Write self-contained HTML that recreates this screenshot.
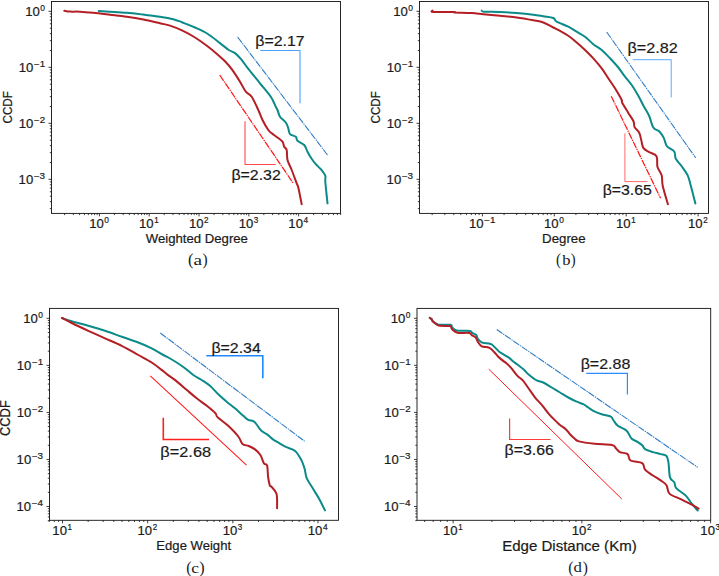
<!DOCTYPE html>
<html><head><meta charset="utf-8"><style>
html,body{margin:0;padding:0;background:#fff;}
svg{display:block;}
text{stroke:#1a1a1a;stroke-width:0.2px;vector-effect:non-scaling-stroke;}
text.cap{stroke:none;}
</style></head><body>
<svg width="719" height="576" viewBox="0 0 719 576">
<rect width="719" height="576" fill="#fff"/>
<path d="M98.70,11.00 C100.58,11.12 105.33,11.40 110.00,11.70 C114.67,12.00 121.15,12.32 126.70,12.80 C132.25,13.28 137.75,13.95 143.30,14.60 C148.85,15.25 155.00,15.93 160.00,16.70 C165.00,17.47 169.55,18.23 173.30,19.20 C177.05,20.17 178.88,21.12 182.50,22.50 C186.12,23.88 190.83,25.62 195.00,27.50 C199.17,29.38 203.33,31.15 207.50,33.75 C211.67,36.35 216.46,40.39 220.00,43.10 C223.54,45.81 226.25,48.33 228.75,50.00 C231.25,51.67 232.92,51.53 235.00,53.10 C237.08,54.67 238.96,56.68 241.25,59.40 C243.54,62.12 245.62,65.42 248.75,69.40 C251.88,73.38 256.32,78.75 260.00,83.30 C263.68,87.85 268.17,92.80 270.80,96.70 C273.43,100.60 274.68,104.48 275.80,106.70 C276.92,108.92 276.80,108.33 277.50,110.00 C278.20,111.67 278.62,114.62 280.00,116.70 C281.38,118.78 284.42,120.57 285.80,122.50 C287.18,124.43 287.60,126.35 288.30,128.30 C289.00,130.25 288.75,132.80 290.00,134.20 C291.25,135.60 294.55,135.60 295.80,136.70 C297.05,137.80 296.10,139.42 297.50,140.80 C298.90,142.18 302.53,143.18 304.20,145.00 C305.87,146.82 306.40,149.62 307.50,151.70 C308.60,153.78 309.42,155.42 310.80,157.50 C312.18,159.58 314.13,162.25 315.80,164.20 C317.47,166.15 319.22,167.27 320.80,169.20 C322.38,171.13 324.55,173.72 325.30,175.80 C326.05,177.88 324.93,177.12 325.30,181.70 C325.67,186.28 327.13,199.70 327.50,203.30" fill="none" stroke="#0b8a8a" stroke-width="2" stroke-linejoin="round" stroke-linecap="round"/>
<path d="M64.30,10.80 C65.25,10.93 67.38,11.45 70.00,11.60 C72.62,11.75 76.12,11.50 80.00,11.70 C83.88,11.90 88.30,12.30 93.30,12.80 C98.30,13.30 104.43,14.05 110.00,14.70 C115.57,15.35 121.15,15.90 126.70,16.70 C132.25,17.50 137.75,18.40 143.30,19.50 C148.85,20.60 155.55,22.28 160.00,23.30 C164.45,24.32 166.25,24.38 170.00,25.60 C173.75,26.82 178.33,28.62 182.50,30.60 C186.67,32.58 190.83,34.89 195.00,37.50 C199.17,40.11 203.75,43.43 207.50,46.25 C211.25,49.07 214.58,51.90 217.50,54.40 C220.42,56.90 222.60,58.75 225.00,61.25 C227.40,63.75 229.40,65.99 231.90,69.40 C234.40,72.81 237.68,77.98 240.00,81.70 C242.32,85.42 243.85,89.20 245.80,91.70 C247.75,94.20 249.62,93.65 251.70,96.70 C253.78,99.75 256.50,106.12 258.30,110.00 C260.10,113.88 260.83,116.67 262.50,120.00 C264.17,123.33 266.77,127.78 268.30,130.00 C269.83,132.22 270.17,132.05 271.70,133.30 C273.23,134.55 275.70,136.10 277.50,137.50 C279.30,138.90 281.38,140.17 282.50,141.70 C283.62,143.23 283.50,145.32 284.20,146.70 C284.90,148.08 286.15,147.78 286.70,150.00 C287.25,152.22 286.67,156.67 287.50,160.00 C288.33,163.33 290.17,166.12 291.70,170.00 C293.23,173.88 295.60,180.38 296.70,183.30 C297.80,186.22 297.47,184.02 298.30,187.50 C299.13,190.98 301.13,201.42 301.70,204.20" fill="none" stroke="#b31f24" stroke-width="2" stroke-linejoin="round" stroke-linecap="round"/>
<path d="M237.60,37.00 L327.50,155.00" fill="none" stroke="#2f7cc8" stroke-width="1.1" stroke-dasharray="7,0.9,1.3,0.9"/>
<path d="M219.70,75.00 L293.30,183.30" fill="none" stroke="#ff1a1a" stroke-width="1.25" stroke-dasharray="7,0.9,1.3,0.9"/>
<path d="M260.20,50.50 L300.00,50.50 L300.00,103.30" fill="none" stroke="#4aa0ff" stroke-width="1.1"/>
<path d="M245.00,121.20 L245.00,164.50 L275.80,164.50" fill="none" stroke="#ff4a4a" stroke-width="1.1"/>
<text transform="translate(255.29,45.60) scale(1.1068,1)" font-family="Liberation Sans" font-size="14.38" fill="#1a1a1a">β=2.17</text>
<text transform="translate(231.39,179.70) scale(1.1068,1)" font-family="Liberation Sans" font-size="14.38" fill="#1a1a1a">β=2.32</text>
<rect x="51.50" y="1.50" width="289.00" height="211.90" fill="none" stroke="#111" stroke-width="0.9"/>
<path d="M64.58,213.40 v1.7 M73.36,213.40 v1.7 M79.58,213.40 v1.7 M84.41,213.40 v1.7 M88.35,213.40 v1.7 M91.68,213.40 v1.7 M94.57,213.40 v1.7 M97.12,213.40 v1.7 M99.40,213.40 v3.0 M114.39,213.40 v1.7 M123.17,213.40 v1.7 M129.39,213.40 v1.7 M134.22,213.40 v1.7 M138.16,213.40 v1.7 M141.49,213.40 v1.7 M144.38,213.40 v1.7 M146.93,213.40 v1.7 M149.21,213.40 v3.0 M164.20,213.40 v1.7 M172.98,213.40 v1.7 M179.20,213.40 v1.7 M184.03,213.40 v1.7 M187.97,213.40 v1.7 M191.30,213.40 v1.7 M194.19,213.40 v1.7 M196.74,213.40 v1.7 M199.02,213.40 v3.0 M214.01,213.40 v1.7 M222.79,213.40 v1.7 M229.01,213.40 v1.7 M233.84,213.40 v1.7 M237.78,213.40 v1.7 M241.11,213.40 v1.7 M244.00,213.40 v1.7 M246.55,213.40 v1.7 M248.83,213.40 v3.0 M263.82,213.40 v1.7 M272.60,213.40 v1.7 M278.82,213.40 v1.7 M283.65,213.40 v1.7 M287.59,213.40 v1.7 M290.92,213.40 v1.7 M293.81,213.40 v1.7 M296.36,213.40 v1.7 M298.64,213.40 v3.0 M313.63,213.40 v1.7 M322.41,213.40 v1.7 M328.63,213.40 v1.7 M333.46,213.40 v1.7 M337.40,213.40 v1.7 M340.73,213.40 v1.7 M51.50,208.64 h-1.7 M51.50,201.64 h-1.7 M51.50,196.22 h-1.7 M51.50,191.78 h-1.7 M51.50,188.03 h-1.7 M51.50,184.79 h-1.7 M51.50,181.92 h-1.7 M51.50,179.36 h-3.0 M51.50,162.50 h-1.7 M51.50,152.64 h-1.7 M51.50,145.64 h-1.7 M51.50,140.22 h-1.7 M51.50,135.78 h-1.7 M51.50,132.03 h-1.7 M51.50,128.79 h-1.7 M51.50,125.92 h-1.7 M51.50,123.36 h-3.0 M51.50,106.50 h-1.7 M51.50,96.64 h-1.7 M51.50,89.64 h-1.7 M51.50,84.22 h-1.7 M51.50,79.78 h-1.7 M51.50,76.03 h-1.7 M51.50,72.79 h-1.7 M51.50,69.92 h-1.7 M51.50,67.36 h-3.0 M51.50,50.50 h-1.7 M51.50,40.64 h-1.7 M51.50,33.64 h-1.7 M51.50,28.22 h-1.7 M51.50,23.78 h-1.7 M51.50,20.03 h-1.7 M51.50,16.79 h-1.7 M51.50,13.92 h-1.7 M51.50,11.36 h-3.0" stroke="#111" stroke-width="0.8" fill="none"/>
<text transform="translate(89.16,228.20) scale(1.0358,1)" font-family="Liberation Sans" font-size="12.69" fill="#1a1a1a">10</text>
<text transform="translate(104.28,223.40) scale(0.9952,1)" font-family="Liberation Sans" font-size="8.46" fill="#1a1a1a">0</text>
<text transform="translate(139.07,228.20) scale(1.0358,1)" font-family="Liberation Sans" font-size="12.69" fill="#1a1a1a">10</text>
<text transform="translate(154.29,223.40) scale(0.9459,1)" font-family="Liberation Sans" font-size="8.46" fill="#1a1a1a">1</text>
<text transform="translate(188.92,228.20) scale(1.0358,1)" font-family="Liberation Sans" font-size="12.69" fill="#1a1a1a">10</text>
<text transform="translate(204.05,223.40) scale(0.9563,1)" font-family="Liberation Sans" font-size="8.46" fill="#1a1a1a">2</text>
<text transform="translate(238.65,228.20) scale(1.0358,1)" font-family="Liberation Sans" font-size="12.69" fill="#1a1a1a">10</text>
<text transform="translate(253.86,223.40) scale(0.9559,1)" font-family="Liberation Sans" font-size="8.46" fill="#1a1a1a">3</text>
<text transform="translate(288.36,228.20) scale(1.0358,1)" font-family="Liberation Sans" font-size="12.69" fill="#1a1a1a">10</text>
<text transform="translate(303.53,223.40) scale(0.9928,1)" font-family="Liberation Sans" font-size="8.46" fill="#1a1a1a">4</text>
<text transform="translate(18.60,183.76) scale(1.0358,1)" font-family="Liberation Sans" font-size="12.69" fill="#1a1a1a">10</text>
<text transform="translate(33.89,178.96) scale(1.1622,1)" font-family="Liberation Sans" font-size="8.46" fill="#1a1a1a">−3</text>
<text transform="translate(18.76,127.76) scale(1.0358,1)" font-family="Liberation Sans" font-size="12.69" fill="#1a1a1a">10</text>
<text transform="translate(34.05,122.96) scale(1.1551,1)" font-family="Liberation Sans" font-size="8.46" fill="#1a1a1a">−2</text>
<text transform="translate(18.68,71.76) scale(1.0358,1)" font-family="Liberation Sans" font-size="12.69" fill="#1a1a1a">10</text>
<text transform="translate(33.97,66.96) scale(1.1587,1)" font-family="Liberation Sans" font-size="8.46" fill="#1a1a1a">−1</text>
<text transform="translate(25.20,15.76) scale(1.0358,1)" font-family="Liberation Sans" font-size="12.69" fill="#1a1a1a">10</text>
<text transform="translate(40.32,10.96) scale(0.9952,1)" font-family="Liberation Sans" font-size="8.46" fill="#1a1a1a">0</text>
<path d="M481.70,10.60 C482.12,10.78 481.15,11.47 484.20,11.70 C487.25,11.93 494.58,11.78 500.00,12.00 C505.42,12.22 511.15,12.55 516.70,13.00 C522.25,13.45 528.87,14.15 533.30,14.70 C537.73,15.25 539.97,15.75 543.30,16.30 C546.63,16.85 551.07,17.10 553.30,18.00 C555.53,18.90 554.20,20.25 556.70,21.70 C559.20,23.15 564.97,25.03 568.30,26.70 C571.63,28.37 573.92,30.03 576.70,31.70 C579.48,33.37 582.23,34.62 585.00,36.70 C587.77,38.78 590.52,41.98 593.30,44.20 C596.08,46.42 598.92,47.65 601.70,50.00 C604.48,52.35 607.23,55.38 610.00,58.30 C612.77,61.22 615.80,64.43 618.30,67.50 C620.80,70.57 622.77,73.78 625.00,76.70 C627.23,79.62 629.48,81.82 631.70,85.00 C633.92,88.18 636.25,92.18 638.30,95.80 C640.35,99.42 642.18,103.33 644.00,106.70 C645.82,110.07 647.65,112.53 649.20,116.00 C650.75,119.47 651.57,124.88 653.30,127.50 C655.03,130.12 657.86,129.97 659.60,131.70 C661.34,133.43 662.53,135.47 663.75,137.90 C664.97,140.33 665.16,143.98 666.90,146.25 C668.64,148.52 672.72,149.42 674.20,151.50 C675.68,153.58 674.58,156.33 675.80,158.75 C677.02,161.17 679.52,163.22 681.50,166.00 C683.48,168.78 686.15,172.10 687.70,175.40 C689.25,178.70 689.52,181.12 690.80,185.80 C692.08,190.48 694.63,200.55 695.40,203.50" fill="none" stroke="#0b8a8a" stroke-width="2" stroke-linejoin="round" stroke-linecap="round"/>
<path d="M432.50,10.60 C432.63,10.83 429.68,11.77 433.30,12.00 C436.92,12.23 450.58,11.92 454.20,12.00 C457.82,12.08 452.08,12.33 455.00,12.50 C457.92,12.67 466.98,12.72 471.70,13.00 C476.42,13.28 478.58,13.73 483.30,14.20 C488.02,14.67 494.43,15.25 500.00,15.80 C505.57,16.35 511.15,16.75 516.70,17.50 C522.25,18.25 528.87,19.47 533.30,20.30 C537.73,21.13 539.97,21.30 543.30,22.50 C546.63,23.70 550.52,26.12 553.30,27.50 C556.08,28.88 557.50,29.42 560.00,30.80 C562.50,32.18 565.52,33.85 568.30,35.80 C571.08,37.75 573.92,40.13 576.70,42.50 C579.48,44.87 582.23,47.37 585.00,50.00 C587.77,52.63 590.52,55.25 593.30,58.30 C596.08,61.35 599.20,64.97 601.70,68.30 C604.20,71.63 606.08,74.97 608.30,78.30 C610.52,81.63 612.77,84.68 615.00,88.30 C617.23,91.92 620.52,97.63 621.70,100.00 C622.88,102.37 621.00,100.35 622.10,102.50 C623.20,104.65 626.40,109.78 628.30,112.90 C630.20,116.03 632.45,118.88 633.50,121.25 C634.55,123.62 633.65,125.19 634.60,127.10 C635.55,129.01 638.09,130.55 639.20,132.70 C640.31,134.85 640.57,137.47 641.25,140.00 C641.93,142.53 641.97,145.88 643.30,147.90 C644.62,149.92 647.00,150.71 649.20,152.10 C651.40,153.49 655.12,153.75 656.50,156.25 C657.88,158.75 656.63,163.91 657.50,167.10 C658.37,170.29 660.83,172.28 661.70,175.40 C662.57,178.52 661.67,181.00 662.70,185.80 C663.73,190.60 667.03,201.13 667.90,204.20" fill="none" stroke="#b31f24" stroke-width="2" stroke-linejoin="round" stroke-linecap="round"/>
<path d="M606.70,32.00 L695.60,157.70" fill="none" stroke="#2f7cc8" stroke-width="1.1" stroke-dasharray="7,0.9,1.3,0.9"/>
<path d="M611.25,96.25 L660.60,198.30" fill="none" stroke="#ff1a1a" stroke-width="1.25" stroke-dasharray="7,0.9,1.3,0.9"/>
<path d="M632.80,59.70 L671.20,59.70 L671.20,97.40" fill="none" stroke="#5aa8ff" stroke-width="1.0"/>
<path d="M624.90,133.30 L624.90,181.60 L647.50,181.60" fill="none" stroke="#ff6a6a" stroke-width="1.0"/>
<text transform="translate(627.57,52.50) scale(1.1231,1)" font-family="Liberation Sans" font-size="14.38" fill="#1a1a1a">β=2.82</text>
<text transform="translate(602.64,195.20) scale(1.1031,1)" font-family="Liberation Sans" font-size="14.38" fill="#1a1a1a">β=3.65</text>
<rect x="419.50" y="1.50" width="289.00" height="211.90" fill="none" stroke="#111" stroke-width="0.9"/>
<path d="M432.14,213.40 v1.7 M444.81,213.40 v1.7 M453.79,213.40 v1.7 M460.76,213.40 v1.7 M466.45,213.40 v1.7 M471.26,213.40 v1.7 M475.43,213.40 v1.7 M479.11,213.40 v1.7 M482.40,213.40 v3.0 M504.04,213.40 v1.7 M516.71,213.40 v1.7 M525.69,213.40 v1.7 M532.66,213.40 v1.7 M538.35,213.40 v1.7 M543.16,213.40 v1.7 M547.33,213.40 v1.7 M551.01,213.40 v1.7 M554.30,213.40 v3.0 M575.94,213.40 v1.7 M588.61,213.40 v1.7 M597.59,213.40 v1.7 M604.56,213.40 v1.7 M610.25,213.40 v1.7 M615.06,213.40 v1.7 M619.23,213.40 v1.7 M622.91,213.40 v1.7 M626.20,213.40 v3.0 M647.84,213.40 v1.7 M660.51,213.40 v1.7 M669.49,213.40 v1.7 M676.46,213.40 v1.7 M682.15,213.40 v1.7 M686.96,213.40 v1.7 M691.13,213.40 v1.7 M694.81,213.40 v1.7 M698.10,213.40 v3.0 M419.50,208.64 h-1.7 M419.50,201.64 h-1.7 M419.50,196.22 h-1.7 M419.50,191.78 h-1.7 M419.50,188.03 h-1.7 M419.50,184.79 h-1.7 M419.50,181.92 h-1.7 M419.50,179.36 h-3.0 M419.50,162.50 h-1.7 M419.50,152.64 h-1.7 M419.50,145.64 h-1.7 M419.50,140.22 h-1.7 M419.50,135.78 h-1.7 M419.50,132.03 h-1.7 M419.50,128.79 h-1.7 M419.50,125.92 h-1.7 M419.50,123.36 h-3.0 M419.50,106.50 h-1.7 M419.50,96.64 h-1.7 M419.50,89.64 h-1.7 M419.50,84.22 h-1.7 M419.50,79.78 h-1.7 M419.50,76.03 h-1.7 M419.50,72.79 h-1.7 M419.50,69.92 h-1.7 M419.50,67.36 h-3.0 M419.50,50.50 h-1.7 M419.50,40.64 h-1.7 M419.50,33.64 h-1.7 M419.50,28.22 h-1.7 M419.50,23.78 h-1.7 M419.50,20.03 h-1.7 M419.50,16.79 h-1.7 M419.50,13.92 h-1.7 M419.50,11.36 h-3.0" stroke="#111" stroke-width="0.8" fill="none"/>
<text transform="translate(468.90,228.20) scale(1.0358,1)" font-family="Liberation Sans" font-size="12.69" fill="#1a1a1a">10</text>
<text transform="translate(484.19,223.40) scale(1.1587,1)" font-family="Liberation Sans" font-size="8.46" fill="#1a1a1a">−1</text>
<text transform="translate(544.06,228.20) scale(1.0358,1)" font-family="Liberation Sans" font-size="12.69" fill="#1a1a1a">10</text>
<text transform="translate(559.18,223.40) scale(0.9952,1)" font-family="Liberation Sans" font-size="8.46" fill="#1a1a1a">0</text>
<text transform="translate(616.06,228.20) scale(1.0358,1)" font-family="Liberation Sans" font-size="12.69" fill="#1a1a1a">10</text>
<text transform="translate(631.27,223.40) scale(0.9459,1)" font-family="Liberation Sans" font-size="8.46" fill="#1a1a1a">1</text>
<text transform="translate(688.00,228.20) scale(1.0358,1)" font-family="Liberation Sans" font-size="12.69" fill="#1a1a1a">10</text>
<text transform="translate(703.13,223.40) scale(0.9563,1)" font-family="Liberation Sans" font-size="8.46" fill="#1a1a1a">2</text>
<text transform="translate(386.60,183.76) scale(1.0358,1)" font-family="Liberation Sans" font-size="12.69" fill="#1a1a1a">10</text>
<text transform="translate(401.89,178.96) scale(1.1622,1)" font-family="Liberation Sans" font-size="8.46" fill="#1a1a1a">−3</text>
<text transform="translate(386.76,127.76) scale(1.0358,1)" font-family="Liberation Sans" font-size="12.69" fill="#1a1a1a">10</text>
<text transform="translate(402.05,122.96) scale(1.1551,1)" font-family="Liberation Sans" font-size="8.46" fill="#1a1a1a">−2</text>
<text transform="translate(386.68,71.76) scale(1.0358,1)" font-family="Liberation Sans" font-size="12.69" fill="#1a1a1a">10</text>
<text transform="translate(401.97,66.96) scale(1.1587,1)" font-family="Liberation Sans" font-size="8.46" fill="#1a1a1a">−1</text>
<text transform="translate(393.20,15.76) scale(1.0358,1)" font-family="Liberation Sans" font-size="12.69" fill="#1a1a1a">10</text>
<text transform="translate(408.32,10.96) scale(0.9952,1)" font-family="Liberation Sans" font-size="8.46" fill="#1a1a1a">0</text>
<path d="M62.00,318.00 C63.62,318.55 67.32,320.00 71.70,321.30 C76.08,322.60 82.75,324.22 88.30,325.80 C93.85,327.38 99.43,328.98 105.00,330.80 C110.57,332.62 116.15,334.75 121.70,336.70 C127.25,338.65 133.30,340.57 138.30,342.50 C143.30,344.43 147.53,346.22 151.70,348.30 C155.87,350.38 160.53,353.47 163.30,355.00 C166.07,356.53 166.07,356.25 168.30,357.50 C170.53,358.75 173.92,360.70 176.70,362.50 C179.48,364.30 182.23,366.22 185.00,368.30 C187.77,370.38 190.52,373.05 193.30,375.00 C196.08,376.95 198.92,378.20 201.70,380.00 C204.48,381.80 207.23,383.43 210.00,385.80 C212.77,388.17 215.52,391.55 218.30,394.20 C221.08,396.85 223.92,399.35 226.70,401.70 C229.48,404.05 232.23,405.95 235.00,408.30 C237.77,410.65 241.08,413.88 243.30,415.80 C245.52,417.72 246.42,418.78 248.30,419.80 C250.18,420.82 252.52,420.17 254.60,421.90 C256.68,423.63 258.72,428.12 260.80,430.20 C262.88,432.28 265.02,432.83 267.10,434.40 C269.18,435.97 271.40,438.22 273.30,439.60 C275.20,440.98 276.42,441.48 278.50,442.70 C280.58,443.92 283.02,445.52 285.80,446.90 C288.58,448.28 292.58,448.75 295.20,451.00 C297.82,453.25 299.93,457.44 301.50,460.40 C303.07,463.36 303.73,465.80 304.60,468.75 C305.47,471.70 305.32,474.81 306.70,478.10 C308.08,481.39 310.82,485.02 312.90,488.50 C314.98,491.98 317.18,495.35 319.20,499.00 C321.22,502.65 324.03,508.50 325.00,510.40" fill="none" stroke="#0b8a8a" stroke-width="2" stroke-linejoin="round" stroke-linecap="round"/>
<path d="M62.00,318.00 C63.62,318.83 67.32,320.87 71.70,323.00 C76.08,325.13 82.75,328.25 88.30,330.80 C93.85,333.35 99.43,335.80 105.00,338.30 C110.57,340.80 116.15,343.02 121.70,345.80 C127.25,348.58 133.30,352.22 138.30,355.00 C143.30,357.78 147.88,360.07 151.70,362.50 C155.52,364.93 158.62,367.58 161.25,369.60 C163.88,371.62 165.07,372.77 167.50,374.60 C169.93,376.43 172.68,378.12 175.80,380.60 C178.93,383.08 182.77,386.55 186.25,389.50 C189.73,392.45 193.22,395.55 196.70,398.30 C200.17,401.05 203.98,403.52 207.10,406.00 C210.22,408.48 213.67,411.35 215.40,413.20 C217.13,415.05 215.42,415.03 217.50,417.10 C219.58,419.17 224.43,422.37 227.90,425.60 C231.37,428.83 235.87,433.43 238.30,436.50 C240.73,439.57 240.76,442.42 242.50,444.00 C244.24,445.58 246.67,445.10 248.75,446.00 C250.83,446.90 253.06,447.90 255.00,449.40 C256.94,450.90 258.90,452.65 260.40,455.00 C261.90,457.35 262.88,461.73 264.00,463.50 C265.12,465.27 266.42,463.35 267.10,465.60 C267.78,467.85 267.65,473.70 268.10,477.00 C268.55,480.30 269.28,483.82 269.80,485.40 C270.32,486.98 270.13,485.11 271.25,486.50 C272.37,487.89 275.52,490.12 276.50,493.75 C277.48,497.38 277.00,505.88 277.10,508.30" fill="none" stroke="#b31f24" stroke-width="2" stroke-linejoin="round" stroke-linecap="round"/>
<path d="M160.30,333.00 L304.60,441.25" fill="none" stroke="#2f7cc8" stroke-width="1.1" stroke-dasharray="7,0.9,1.3,0.9"/>
<path d="M150.30,375.80 L246.50,465.20" fill="none" stroke="#ff1a1a" stroke-width="1.05" stroke-dasharray="none"/>
<path d="M206.30,355.80 L262.80,355.80 L262.80,378.30" fill="none" stroke="#1e88ff" stroke-width="1.6"/>
<path d="M163.30,417.70 L163.30,439.50 L209.00,439.50" fill="none" stroke="#ff1f1f" stroke-width="1.6"/>
<text transform="translate(211.39,352.50) scale(1.1064,1)" font-family="Liberation Sans" font-size="14.38" fill="#1a1a1a">β=2.34</text>
<text transform="translate(160.36,457.30) scale(1.1356,1)" font-family="Liberation Sans" font-size="14.38" fill="#1a1a1a">β=2.68</text>
<rect x="49.50" y="308.40" width="289.00" height="211.90" fill="none" stroke="#111" stroke-width="0.9"/>
<path d="M49.31,520.30 v1.7 M54.25,520.30 v1.7 M58.60,520.30 v1.7 M62.50,520.30 v3.0 M88.14,520.30 v1.7 M103.14,520.30 v1.7 M113.78,520.30 v1.7 M122.03,520.30 v1.7 M128.78,520.30 v1.7 M134.48,520.30 v1.7 M139.42,520.30 v1.7 M143.77,520.30 v1.7 M147.67,520.30 v3.0 M173.31,520.30 v1.7 M188.31,520.30 v1.7 M198.95,520.30 v1.7 M207.20,520.30 v1.7 M213.95,520.30 v1.7 M219.65,520.30 v1.7 M224.59,520.30 v1.7 M228.94,520.30 v1.7 M232.84,520.30 v3.0 M258.48,520.30 v1.7 M273.48,520.30 v1.7 M284.12,520.30 v1.7 M292.37,520.30 v1.7 M299.12,520.30 v1.7 M304.82,520.30 v1.7 M309.76,520.30 v1.7 M314.11,520.30 v1.7 M318.01,520.30 v3.0 M49.50,520.66 h-1.7 M49.50,516.94 h-1.7 M49.50,513.79 h-1.7 M49.50,511.06 h-1.7 M49.50,508.65 h-1.7 M49.50,506.50 h-3.0 M49.50,492.34 h-1.7 M49.50,484.05 h-1.7 M49.50,478.17 h-1.7 M49.50,473.61 h-1.7 M49.50,469.89 h-1.7 M49.50,466.74 h-1.7 M49.50,464.01 h-1.7 M49.50,461.60 h-1.7 M49.50,459.45 h-3.0 M49.50,445.29 h-1.7 M49.50,437.00 h-1.7 M49.50,431.12 h-1.7 M49.50,426.56 h-1.7 M49.50,422.84 h-1.7 M49.50,419.69 h-1.7 M49.50,416.96 h-1.7 M49.50,414.55 h-1.7 M49.50,412.40 h-3.0 M49.50,398.24 h-1.7 M49.50,389.95 h-1.7 M49.50,384.07 h-1.7 M49.50,379.51 h-1.7 M49.50,375.79 h-1.7 M49.50,372.64 h-1.7 M49.50,369.91 h-1.7 M49.50,367.50 h-1.7 M49.50,365.35 h-3.0 M49.50,351.19 h-1.7 M49.50,342.90 h-1.7 M49.50,337.02 h-1.7 M49.50,332.46 h-1.7 M49.50,328.74 h-1.7 M49.50,325.59 h-1.7 M49.50,322.86 h-1.7 M49.50,320.45 h-1.7 M49.50,318.30 h-3.0" stroke="#111" stroke-width="0.8" fill="none"/>
<text transform="translate(52.36,535.10) scale(1.0358,1)" font-family="Liberation Sans" font-size="12.69" fill="#1a1a1a">10</text>
<text transform="translate(67.58,530.30) scale(0.9459,1)" font-family="Liberation Sans" font-size="8.46" fill="#1a1a1a">1</text>
<text transform="translate(137.57,535.10) scale(1.0358,1)" font-family="Liberation Sans" font-size="12.69" fill="#1a1a1a">10</text>
<text transform="translate(152.70,530.30) scale(0.9563,1)" font-family="Liberation Sans" font-size="8.46" fill="#1a1a1a">2</text>
<text transform="translate(222.66,535.10) scale(1.0358,1)" font-family="Liberation Sans" font-size="12.69" fill="#1a1a1a">10</text>
<text transform="translate(237.87,530.30) scale(0.9559,1)" font-family="Liberation Sans" font-size="8.46" fill="#1a1a1a">3</text>
<text transform="translate(307.73,535.10) scale(1.0358,1)" font-family="Liberation Sans" font-size="12.69" fill="#1a1a1a">10</text>
<text transform="translate(322.90,530.30) scale(0.9928,1)" font-family="Liberation Sans" font-size="8.46" fill="#1a1a1a">4</text>
<text transform="translate(16.40,510.90) scale(1.0358,1)" font-family="Liberation Sans" font-size="12.69" fill="#1a1a1a">10</text>
<text transform="translate(31.68,506.10) scale(1.1735,1)" font-family="Liberation Sans" font-size="8.46" fill="#1a1a1a">−4</text>
<text transform="translate(16.60,463.85) scale(1.0358,1)" font-family="Liberation Sans" font-size="12.69" fill="#1a1a1a">10</text>
<text transform="translate(31.89,459.05) scale(1.1622,1)" font-family="Liberation Sans" font-size="8.46" fill="#1a1a1a">−3</text>
<text transform="translate(16.76,416.80) scale(1.0358,1)" font-family="Liberation Sans" font-size="12.69" fill="#1a1a1a">10</text>
<text transform="translate(32.05,412.00) scale(1.1551,1)" font-family="Liberation Sans" font-size="8.46" fill="#1a1a1a">−2</text>
<text transform="translate(16.68,369.75) scale(1.0358,1)" font-family="Liberation Sans" font-size="12.69" fill="#1a1a1a">10</text>
<text transform="translate(31.97,364.95) scale(1.1587,1)" font-family="Liberation Sans" font-size="8.46" fill="#1a1a1a">−1</text>
<text transform="translate(23.20,322.70) scale(1.0358,1)" font-family="Liberation Sans" font-size="12.69" fill="#1a1a1a">10</text>
<text transform="translate(38.32,317.90) scale(0.9952,1)" font-family="Liberation Sans" font-size="8.46" fill="#1a1a1a">0</text>
<path d="M429.80,317.80 C430.08,318.00 431.05,318.50 431.50,319.00 C431.95,319.50 431.92,320.15 432.50,320.80 C433.08,321.45 434.17,322.32 435.00,322.90 C435.83,323.48 436.67,323.98 437.50,324.30 C438.33,324.62 437.82,324.72 440.00,324.80 C442.18,324.88 448.57,324.37 450.60,324.80 C452.63,325.23 451.18,326.43 452.20,327.40 C453.22,328.37 453.73,330.02 456.70,330.60 C459.67,331.18 467.42,330.52 470.00,330.90 C472.58,331.28 471.18,332.25 472.20,332.90 C473.22,333.55 475.17,333.83 476.10,334.80 C477.03,335.77 476.97,337.50 477.80,338.70 C478.63,339.90 480.08,341.27 481.10,342.00 C482.12,342.73 482.60,342.87 483.90,343.10 C485.20,343.33 487.52,343.12 488.90,343.40 C490.28,343.68 491.08,344.02 492.20,344.80 C493.32,345.58 494.48,346.98 495.60,348.10 C496.72,349.22 497.80,350.57 498.90,351.50 C500.00,352.43 500.53,352.68 502.20,353.70 C503.87,354.72 507.05,356.30 508.90,357.60 C510.75,358.90 511.82,360.30 513.30,361.50 C514.78,362.70 515.98,363.38 517.80,364.80 C519.62,366.22 522.45,368.43 524.20,370.00 C525.95,371.57 526.22,372.47 528.30,374.20 C530.38,375.93 534.20,379.02 536.70,380.40 C539.20,381.78 540.80,381.32 543.30,382.50 C545.80,383.68 548.92,385.83 551.70,387.50 C554.48,389.17 557.23,390.83 560.00,392.50 C562.77,394.17 565.52,395.97 568.30,397.50 C571.08,399.03 574.20,400.58 576.70,401.70 C579.20,402.82 581.37,403.23 583.30,404.20 C585.23,405.17 586.63,406.40 588.30,407.50 C589.97,408.60 591.07,409.68 593.30,410.80 C595.53,411.92 598.78,413.22 601.70,414.20 C604.62,415.18 608.87,415.73 610.80,416.70 C612.73,417.67 612.13,418.48 613.30,420.00 C614.47,421.52 615.58,424.02 617.80,425.80 C620.02,427.58 624.32,428.58 626.60,430.70 C628.88,432.82 629.72,436.65 631.50,438.50 C633.28,440.35 635.52,440.67 637.30,441.80 C639.08,442.93 640.90,444.07 642.20,445.30 C643.50,446.53 643.32,448.07 645.10,449.20 C646.88,450.33 650.30,451.28 652.90,452.10 C655.50,452.92 658.43,453.45 660.70,454.10 C662.97,454.75 665.20,454.55 666.50,456.00 C667.80,457.45 667.92,459.23 668.50,462.80 C669.08,466.37 669.03,474.15 670.00,477.40 C670.97,480.65 673.27,480.52 674.30,482.30 C675.33,484.08 674.25,485.83 676.20,488.10 C678.15,490.37 683.40,493.30 686.00,495.90 C688.60,498.50 689.85,501.27 691.80,503.70 C693.75,506.13 696.72,509.37 697.70,510.50" fill="none" stroke="#0b8a8a" stroke-width="2" stroke-linejoin="round" stroke-linecap="round"/>
<path d="M429.80,317.80 C430.08,318.00 431.05,318.47 431.50,319.00 C431.95,319.53 431.92,320.28 432.50,321.00 C433.08,321.72 434.17,322.63 435.00,323.30 C435.83,323.97 436.67,324.58 437.50,325.00 C438.33,325.42 437.92,325.62 440.00,325.80 C442.08,325.98 448.17,325.90 450.00,326.10 C451.83,326.30 450.63,326.47 451.00,327.00 C451.37,327.53 451.53,328.53 452.20,329.30 C452.87,330.07 454.12,331.03 455.00,331.60 C455.88,332.17 456.50,332.47 457.50,332.70 C458.50,332.93 459.02,332.95 461.00,333.00 C462.98,333.05 467.62,332.65 469.40,333.00 C471.18,333.35 470.67,334.38 471.70,335.10 C472.73,335.82 474.58,336.18 475.60,337.30 C476.62,338.42 476.97,340.45 477.80,341.80 C478.63,343.15 479.68,344.57 480.60,345.40 C481.52,346.23 482.10,346.48 483.30,346.80 C484.50,347.12 486.50,346.93 487.80,347.30 C489.10,347.67 490.00,348.17 491.10,349.00 C492.20,349.83 493.28,351.10 494.40,352.30 C495.52,353.50 496.50,354.90 497.80,356.20 C499.10,357.50 500.72,358.90 502.20,360.10 C503.68,361.30 505.22,362.10 506.70,363.40 C508.18,364.70 509.35,365.87 511.10,367.90 C512.85,369.93 515.25,373.52 517.20,375.60 C519.15,377.68 520.95,378.33 522.80,380.40 C524.65,382.47 526.22,385.10 528.30,388.00 C530.38,390.90 532.98,394.90 535.30,397.80 C537.62,400.70 539.88,402.63 542.20,405.40 C544.52,408.17 546.88,411.73 549.20,414.40 C551.52,417.07 554.30,419.63 556.10,421.40 C557.90,423.17 558.38,423.70 560.00,425.00 C561.62,426.30 564.13,427.67 565.80,429.20 C567.47,430.73 568.60,432.68 570.00,434.20 C571.40,435.72 572.72,437.10 574.20,438.30 C575.68,439.50 575.52,440.49 578.90,441.40 C582.28,442.31 588.98,443.17 594.50,443.75 C600.02,444.33 608.43,444.16 612.00,444.90 C615.57,445.64 614.60,447.00 615.90,448.20 C617.20,449.40 617.85,451.12 619.80,452.10 C621.75,453.08 625.82,452.70 627.60,454.10 C629.38,455.50 628.07,458.98 630.50,460.50 C632.93,462.02 639.77,461.68 642.20,463.20 C644.63,464.72 643.32,467.55 645.10,469.60 C646.88,471.65 650.30,473.70 652.90,475.50 C655.50,477.30 658.43,478.78 660.70,480.40 C662.97,482.02 665.05,483.00 666.50,485.20 C667.95,487.40 667.13,491.32 669.40,493.60 C671.67,495.88 676.37,497.05 680.10,498.90 C683.83,500.75 688.72,503.08 691.80,504.70 C694.88,506.32 697.47,507.95 698.60,508.60" fill="none" stroke="#b31f24" stroke-width="2" stroke-linejoin="round" stroke-linecap="round"/>
<path d="M496.70,329.50 L697.70,467.30" fill="none" stroke="#2f7cc8" stroke-width="1.1" stroke-dasharray="7,0.9,1.3,0.9"/>
<path d="M488.80,369.20 L621.70,498.90" fill="none" stroke="#ff1a1a" stroke-width="1.0" stroke-dasharray="none"/>
<path d="M586.25,373.40 L627.40,373.40 L627.40,394.40" fill="none" stroke="#2a8cff" stroke-width="1.2"/>
<path d="M509.60,418.60 L509.60,439.50 L550.50,439.50" fill="none" stroke="#ff3a3a" stroke-width="1.2"/>
<text transform="translate(580.68,368.60) scale(1.1124,1)" font-family="Liberation Sans" font-size="14.38" fill="#1a1a1a">β=2.88</text>
<text transform="translate(504.59,454.80) scale(1.1054,1)" font-family="Liberation Sans" font-size="14.38" fill="#1a1a1a">β=3.66</text>
<rect x="417.00" y="308.40" width="293.70" height="211.90" fill="none" stroke="#111" stroke-width="0.9"/>
<path d="M424.60,520.30 v1.7 M433.21,520.30 v1.7 M440.68,520.30 v1.7 M447.26,520.30 v1.7 M453.15,520.30 v3.0 M491.89,520.30 v1.7 M514.56,520.30 v1.7 M530.64,520.30 v1.7 M543.11,520.30 v1.7 M553.30,520.30 v1.7 M561.91,520.30 v1.7 M569.38,520.30 v1.7 M575.96,520.30 v1.7 M581.85,520.30 v3.0 M620.59,520.30 v1.7 M643.26,520.30 v1.7 M659.34,520.30 v1.7 M671.81,520.30 v1.7 M682.00,520.30 v1.7 M690.61,520.30 v1.7 M698.08,520.30 v1.7 M704.66,520.30 v1.7 M710.55,520.30 v3.0 M417.00,520.66 h-1.7 M417.00,516.94 h-1.7 M417.00,513.79 h-1.7 M417.00,511.06 h-1.7 M417.00,508.65 h-1.7 M417.00,506.50 h-3.0 M417.00,492.34 h-1.7 M417.00,484.05 h-1.7 M417.00,478.17 h-1.7 M417.00,473.61 h-1.7 M417.00,469.89 h-1.7 M417.00,466.74 h-1.7 M417.00,464.01 h-1.7 M417.00,461.60 h-1.7 M417.00,459.45 h-3.0 M417.00,445.29 h-1.7 M417.00,437.00 h-1.7 M417.00,431.12 h-1.7 M417.00,426.56 h-1.7 M417.00,422.84 h-1.7 M417.00,419.69 h-1.7 M417.00,416.96 h-1.7 M417.00,414.55 h-1.7 M417.00,412.40 h-3.0 M417.00,398.24 h-1.7 M417.00,389.95 h-1.7 M417.00,384.07 h-1.7 M417.00,379.51 h-1.7 M417.00,375.79 h-1.7 M417.00,372.64 h-1.7 M417.00,369.91 h-1.7 M417.00,367.50 h-1.7 M417.00,365.35 h-3.0 M417.00,351.19 h-1.7 M417.00,342.90 h-1.7 M417.00,337.02 h-1.7 M417.00,332.46 h-1.7 M417.00,328.74 h-1.7 M417.00,325.59 h-1.7 M417.00,322.86 h-1.7 M417.00,320.45 h-1.7 M417.00,318.30 h-3.0" stroke="#111" stroke-width="0.8" fill="none"/>
<text transform="translate(443.01,535.10) scale(1.0358,1)" font-family="Liberation Sans" font-size="12.69" fill="#1a1a1a">10</text>
<text transform="translate(458.22,530.30) scale(0.9459,1)" font-family="Liberation Sans" font-size="8.46" fill="#1a1a1a">1</text>
<text transform="translate(571.75,535.10) scale(1.0358,1)" font-family="Liberation Sans" font-size="12.69" fill="#1a1a1a">10</text>
<text transform="translate(586.88,530.30) scale(0.9563,1)" font-family="Liberation Sans" font-size="8.46" fill="#1a1a1a">2</text>
<text transform="translate(700.37,535.10) scale(1.0358,1)" font-family="Liberation Sans" font-size="12.69" fill="#1a1a1a">10</text>
<text transform="translate(715.58,530.30) scale(0.9559,1)" font-family="Liberation Sans" font-size="8.46" fill="#1a1a1a">3</text>
<text transform="translate(383.90,510.90) scale(1.0358,1)" font-family="Liberation Sans" font-size="12.69" fill="#1a1a1a">10</text>
<text transform="translate(399.18,506.10) scale(1.1735,1)" font-family="Liberation Sans" font-size="8.46" fill="#1a1a1a">−4</text>
<text transform="translate(384.10,463.85) scale(1.0358,1)" font-family="Liberation Sans" font-size="12.69" fill="#1a1a1a">10</text>
<text transform="translate(399.39,459.05) scale(1.1622,1)" font-family="Liberation Sans" font-size="8.46" fill="#1a1a1a">−3</text>
<text transform="translate(384.26,416.80) scale(1.0358,1)" font-family="Liberation Sans" font-size="12.69" fill="#1a1a1a">10</text>
<text transform="translate(399.55,412.00) scale(1.1551,1)" font-family="Liberation Sans" font-size="8.46" fill="#1a1a1a">−2</text>
<text transform="translate(384.18,369.75) scale(1.0358,1)" font-family="Liberation Sans" font-size="12.69" fill="#1a1a1a">10</text>
<text transform="translate(399.47,364.95) scale(1.1587,1)" font-family="Liberation Sans" font-size="8.46" fill="#1a1a1a">−1</text>
<text transform="translate(390.70,322.70) scale(1.0358,1)" font-family="Liberation Sans" font-size="12.69" fill="#1a1a1a">10</text>
<text transform="translate(405.82,317.90) scale(0.9952,1)" font-family="Liberation Sans" font-size="8.46" fill="#1a1a1a">0</text>
<text transform="translate(145.73,242.80) scale(1.0567,1)" font-family="Liberation Sans" font-size="12.47" fill="#1a1a1a">Weighted Degree</text>
<text transform="translate(542.04,242.80) scale(1.0469,1)" font-family="Liberation Sans" font-size="12.69" fill="#1a1a1a">Degree</text>
<text transform="translate(156.35,550.20) scale(1.0424,1)" font-family="Liberation Sans" font-size="12.58" fill="#1a1a1a">Edge Weight</text>
<text transform="translate(502.20,550.50) scale(1.0459,1)" font-family="Liberation Sans" font-size="14.38" fill="#1a1a1a">Edge Distance (Km)</text>
<text transform="translate(12.10,123.48) rotate(-90) scale(0.9237,1)" font-family="Liberation Sans" font-size="12.58" fill="#1a1a1a">CCDF</text>
<text transform="translate(10.10,436.05) rotate(-90) scale(0.9192,1)" font-family="Liberation Sans" font-size="14.06" fill="#1a1a1a">CCDF</text>
<text transform="translate(380.00,123.38) rotate(-90) scale(0.9207,1)" font-family="Liberation Sans" font-size="12.58" fill="#1a1a1a">CCDF</text>
<text transform="translate(187.96,265.18) scale(0.1647,0.1637)" font-family="Liberation Serif" font-size="100.00" fill="#1a1a1a" class="cap">(</text>
<text transform="translate(193.53,264.76) scale(0.1924,0.1437)" font-family="Liberation Serif" font-size="100.00" fill="#1a1a1a" class="cap">a</text>
<text transform="translate(202.44,265.18) scale(0.1538,0.1637)" font-family="Liberation Serif" font-size="100.00" fill="#1a1a1a" class="cap">)</text>
<text transform="translate(556.03,265.03) scale(0.1490,0.1615)" font-family="Liberation Serif" font-size="100.00" fill="#1a1a1a" class="cap">(</text>
<text transform="translate(562.20,264.75) scale(0.1652,0.1518)" font-family="Liberation Serif" font-size="100.00" fill="#1a1a1a" class="cap">b</text>
<text transform="translate(570.66,265.03) scale(0.1462,0.1615)" font-family="Liberation Serif" font-size="100.00" fill="#1a1a1a" class="cap">)</text>
<text transform="translate(186.19,572.66) scale(0.1569,0.1692)" font-family="Liberation Serif" font-size="100.00" fill="#1a1a1a" class="cap">(</text>
<text transform="translate(191.31,572.56) scale(0.1733,0.1438)" font-family="Liberation Serif" font-size="100.00" fill="#1a1a1a" class="cap">c</text>
<text transform="translate(199.32,572.66) scale(0.1615,0.1692)" font-family="Liberation Serif" font-size="100.00" fill="#1a1a1a" class="cap">)</text>
<text transform="translate(568.19,572.66) scale(0.1569,0.1692)" font-family="Liberation Serif" font-size="100.00" fill="#1a1a1a" class="cap">(</text>
<text transform="translate(573.42,572.45) scale(0.1670,0.1504)" font-family="Liberation Serif" font-size="100.00" fill="#1a1a1a" class="cap">d</text>
<text transform="translate(582.64,572.66) scale(0.1538,0.1692)" font-family="Liberation Serif" font-size="100.00" fill="#1a1a1a" class="cap">)</text>
</svg>
</body></html>
